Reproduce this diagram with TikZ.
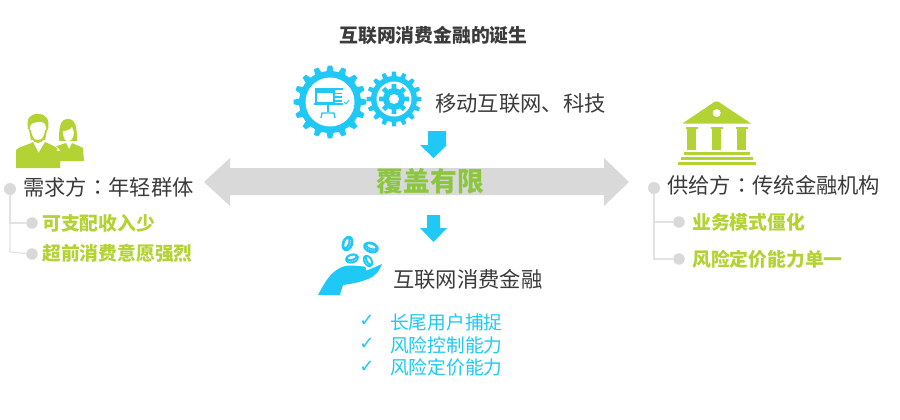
\documentclass[tikz,border=0pt]{standalone}
\usepackage{fontspec}
\setmainfont{Noto Sans CJK SC}
\newfontfamily\tcfont{Noto Sans CJK TC}
\newfontfamily\symfont{DejaVu Sans}
\definecolor{cy}{HTML}{1FC8F5}
\definecolor{gr}{HTML}{B3D334}
\definecolor{cv}{HTML}{8CC63F}
\definecolor{lg}{HTML}{D9D9D9}
\definecolor{ln}{HTML}{E3E3E3}
\definecolor{tx}{HTML}{3B3B3B}
\tikzset{
  x=1pt,y=-1pt,
  lab/.style={anchor=west,inner sep=0pt,text=tx,font=\fontsize{21.3}{21}\selectfont},
  sub/.style={anchor=west,inner sep=0pt,text=gr,font=\fontsize{18.8}{19}\selectfont\bfseries},
  blu/.style={anchor=west,inner sep=0pt,text=cy,font=\fontsize{18.7}{19}\selectfont},
  chk/.style={anchor=center,inner sep=0pt,text=cy,font=\fontsize{18}{18}\selectfont\symfont},
  bigdot/.style={circle,fill=lg,minimum size=12pt,inner sep=0pt},
  smalldot/.style={circle,fill=lg,minimum size=11.5pt,inner sep=0pt},
  tree/.style={draw=ln,line width=1.2pt},
}
\newcommand{\gearshape}[8]{%
  \fill[#8] (#1,#2) circle[radius=#3];
  \foreach \i in {1,...,#5}{
    \pgfmathsetmacro{\a}{360*\i/#5}
    \fill[#8] ({#1+(#3-1)*cos(\a-#6)},{#2+(#3-1)*sin(\a-#6)})
      -- ({#1+#4*cos(\a-#7)},{#2+#4*sin(\a-#7)})
      -- ({#1+#4*cos(\a+#7)},{#2+#4*sin(\a+#7)})
      -- ({#1+(#3-1)*cos(\a+#6)},{#2+(#3-1)*sin(\a+#6)}) -- cycle;
  }
}
\newcommand{\coinshape}[4]{%
  \begin{scope}[shift={(#1,#2)},rotate=#3]
    \fill[cy] (0,0) ellipse[x radius=#4,y radius=#4*0.7];
    \fill[white] (0,-1.2) ellipse[x radius=#4*0.55,y radius=#4*0.2];
    \foreach \k in {-2,...,2}{
      \fill[white] ({\k*#4*0.25},{2.4-0.1*\k*\k}) circle[radius=0.45];
    }
  \end{scope}
}
\begin{document}
\begin{tikzpicture}
\useasboundingbox (0,0) rectangle (900,420);
\fill[white] (0,0) rectangle (900,420);

% double arrow
\fill[lg] (204,182) -- (230,158) -- (230,168) -- (604,168) -- (604,158) -- (629,182) -- (604,206) -- (604,195) -- (230,195) -- (230,206) -- cycle;

% title and centre
\node[anchor=center,inner sep=0pt,text=tx,font=\fontsize{18.8}{19}\selectfont\bfseries] (title) at (433.5,35) {互联网消费金融的诞生};
\node[lab] (mobile) at (435,103) {移动互联网、科技};
\node[anchor=center,inner sep=0pt,text=cv,font=\fontsize{26.8}{27}\selectfont\bfseries] (cover) at (430.5,181) {覆盖有限};
\node[lab] (fin) at (393,279) {互联网消费金融};

% down arrows
\fill[cy] (428,131) -- (446,131) -- (446,145) -- (447,145) -- (433.5,158) -- (420,145) -- (428,145) -- cycle;
\fill[cy] (427,215) -- (440,215) -- (440,228) -- (447,228) -- (433.5,242) -- (420,228) -- (427,228) -- cycle;

% big gear
\gearshape{330}{102}{31}{36.5}{16}{7}{3.5}{cy}
\fill[white] (330,102) circle[radius=24.5];
\fill[cy] (315,88) rectangle (335,104);
\fill[white] (317,91) rectangle (333,102);
\fill[cy] (317,91) rectangle (333,93);
\fill[cy] (335,88) rectangle (343,90);
\fill[cy] (334,93) rectangle (342,94.5);
\fill[cy] (334,96.5) rectangle (342,98);
\fill[cy] (334,100) rectangle (342,101.5);
\fill[cy] (314,103) rectangle (343,105);
\fill[cy] (326.5,105) rectangle (329,112);
\draw[cy,line width=1.3pt] (321,118) -- (322,113) -- (334,113) -- (335,118);
\draw[cy,line width=0.9pt] (344,102) -- (346,104) -- (349,100);

% small gear
\gearshape{394}{99}{23}{27.5}{16}{7}{3.8}{cy}
\fill[white] (394,99) circle[radius=17.5];
\gearshape{394}{99}{11}{15}{8}{14}{9}{cy}
\fill[white] (394,99) circle[radius=5];

% people
\fill[gr] (16,168) -- (16,150) .. controls (18,147) and (28,145) .. (33,142) -- (38.5,153) -- (45,142) .. controls (50,144) and (56,147) .. (60,150) -- (60,168) -- cycle;
\fill[gr] (28,129) .. controls (26,118) and (30,114) .. (38,114) .. controls (46,114) and (50,119) .. (48,130) -- (46,130) .. controls (47,136) and (43,143) .. (38,143) .. controls (33,143) and (29,136) .. (30,130) -- cycle;
\fill[white] (30,127) .. controls (31,123) and (34,123) .. (38,122) .. controls (42,122) and (45,122) .. (46,127) -- (46,131) .. controls (45,136) and (42,140) .. (38,140) .. controls (34,140) and (31,136) .. (30,131) -- cycle;
\fill[gr] (29,130) -- (31,130) .. controls (31,133) and (33,137) .. (34,139) -- (31,140) -- cycle;
\fill[gr] (47,130) -- (45,130) .. controls (45,133) and (43,137) .. (42,139) -- (45,140) -- cycle;
% woman
\fill[white] (57,145) rectangle (75,151);
\fill[gr] (60,168) -- (60,150) -- (56,146) .. controls (60,145) and (63,144) .. (66,143) -- (69,149) -- (72,143) .. controls (76,145) and (80,146) .. (83,148) -- (84,161) -- (60,161) -- (60,168) -- cycle;
\fill[gr] (59,141) .. controls (59,127) and (60,119) .. (68,119) .. controls (76,119) and (77,128) .. (77,141) -- (72,141) -- (64,141) -- cycle;
\fill[white] (63,131) .. controls (66,131) and (70,130) .. (72,127) .. controls (73,130) and (74,132) .. (74,133) .. controls (73,139) and (71,141) .. (68,142) .. controls (65,141) and (63,138) .. (63,131) -- cycle;

% demand tree
\node[bigdot] (d0) at (10,189) {};
\node[smalldot] (d1) at (32,223) {};
\node[smalldot] (d2) at (32,254) {};
\draw[tree] (d0) -- (10,223) coordinate (d1j) -- (d1);
\draw[tree] (d1j) -- (10,252) -- (d2);
\node[lab] (dt) at (23,187) {需求方{\tcfont ：}年轻群体};
\node[sub] (dt1) at (42,223) {可支配收入少};
\node[sub] (dt2) at (42,253) {超前消费意愿强烈};

% bank
\fill[gr] (682.5,123.5) -- (715,101.5) .. controls (716,100.8) and (717,100.8) .. (718,101.5) -- (751,123.5) -- cycle;
\fill[white] (716.7,113) circle[radius=4];
\foreach \x in {687,712,737}{
  \fill[gr] (\x-1.5,126.5) rectangle (\x+10.5,128.5);
  \fill[gr] (\x,128.5) rectangle (\x+9,150);
}
\fill[gr] (684,151.5) rectangle (749.5,154.5);
\fill[gr] (680.5,156.5) rectangle (753,159.5);
\fill[gr] (677.5,161.5) rectangle (755.5,164.5);

% supply tree
\node[bigdot] (s0) at (654,188) {};
\node[smalldot] (s1) at (679,222) {};
\node[smalldot] (s2) at (679,259) {};
\draw[tree] (s0) -- (654,222) coordinate (s1j) -- (s1);
\draw[tree] (s1j) -- (654,259) -- (s2);
\node[lab] (st) at (667,185) {供给方{\tcfont ：}传统金融机构};
\node[sub] (st1) at (692,222) {业务模式僵化};
\node[sub] (st2) at (692,259) {风险定价能力单一};

% hand
\fill[cy] (318,295) .. controls (325,282) and (330,273) .. (340,268) .. controls (347,264) and (355,266) .. (364,266.5) .. controls (367,267) and (367,272) .. (364,272.5) -- (350,273) .. controls (358,274) and (364,272) .. (382,264) .. controls (379,272) and (374,277) .. (368,279) .. controls (358,283) and (350,284) .. (343,285) .. controls (342,288) and (341,291) .. (340,295) -- cycle;
\coinshape{347.5}{243.5}{70}{8}
\coinshape{371}{247.5}{-20}{8}
\coinshape{352}{258.5}{15}{7}
\coinshape{368}{261}{-60}{6.5}

% blue list
\node[chk] (c1) at (367,321) {✓};
\node[chk] (c2) at (367,344) {✓};
\node[chk] (c3) at (367,367) {✓};
\node[blu] (b1) at (390,322) {长尾用户捕捉};
\node[blu] (b2) at (390,345) {风险控制能力};
\node[blu] (b3) at (390,367) {风险定价能力};
\end{tikzpicture}
\end{document}
